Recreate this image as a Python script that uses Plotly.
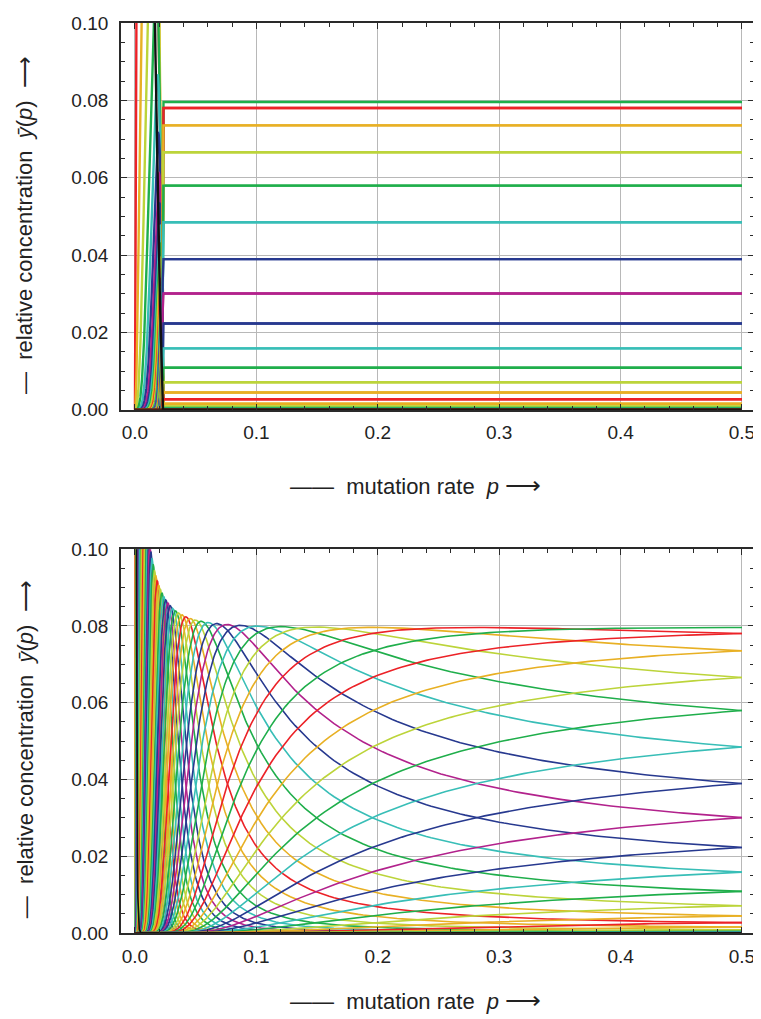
import numpy as np
import plotly.graph_objects as go
from plotly.subplots import make_subplots
from math import comb

# ---------------- data / model parameters ----------------
CHAIN_LENGTH = 100                      # plateau 0.0796 at p=0.5 -> C(100,50)/2^100
error_classes = list(range(CHAIN_LENGTH + 1))
SINGLE_PEAK_SUPERIORITY = 10.0          # top panel: error threshold at p ~ 0.0225
SITE_FITNESS_RATIO = 0.95               # bottom panel: smooth transition

mutation_rates = sorted(set(
    [round(i * 0.0001, 4) for i in range(0, 301)] +
    [round(0.03 + i * 0.001, 4) for i in range(0, 71)] +
    [round(0.1 + i * 0.004, 4) for i in range(0, 101)]
))

x_tick_values = [0.0, 0.1, 0.2, 0.3, 0.4, 0.5]
x_tick_labels = ["0.0", "0.1", "0.2", "0.3", "0.4", "0.5"]
y_tick_values = [0.00, 0.02, 0.04, 0.06, 0.08, 0.10]
y_tick_labels = ["0.00", "0.02", "0.04", "0.06", "0.08", "0.10"]

RED = "#ec2227"
ORANGE = "#e8b024"
YGREEN = "#bcd43a"
GREEN = "#1fae4b"
TEAL = "#38beb7"
BLUE = "#27398f"
MAGENTA = "#b2228c"
BLACK = "#111111"
color_cycle = [ORANGE, RED, ORANGE, YGREEN, GREEN, TEAL, BLUE, MAGENTA, BLUE, TEAL, GREEN, YGREEN]


def class_color(k):
    m = min(k, CHAIN_LENGTH - k)
    if m == 0:
        return BLACK
    if m == CHAIN_LENGTH // 2:
        return GREEN
    return color_cycle[m % 12]


# ---------------- quasispecies (error-class) computation ----------------
n = CHAIN_LENGTH
C = np.zeros((n + 1, n + 1))
for a in range(n + 1):
    for b in range(a + 1):
        C[a, b] = comb(a, b)


def class_mutation_matrix(p):
    q = 1.0 - p
    Q = np.zeros((n + 1, n + 1))
    for k in range(n + 1):
        i = np.arange(k + 1)
        stay = C[k, :k + 1] * q ** i * p ** (k - i)
        j = np.arange(n - k + 1)
        new = C[n - k, :n - k + 1] * p ** j * q ** (n - k - j)
        Q[:, k] = np.convolve(stay, new)
    return Q


fit_single_peak = np.ones(n + 1)
fit_single_peak[0] = SINGLE_PEAK_SUPERIORITY
fit_multiplicative = SITE_FITNESS_RATIO ** np.arange(n + 1)


def stationary(W):
    vals, vecs = np.linalg.eig(W)
    idx = np.argmax(vals.real)
    x = np.abs(vecs[:, idx].real)
    return x / x.sum()


top_conc = []
bottom_conc = []
for p in mutation_rates:
    Q = class_mutation_matrix(p)
    top_conc.append(stationary(Q * fit_single_peak[None, :]))
    bottom_conc.append(stationary(Q * fit_multiplicative[None, :]))
top_conc = np.array(top_conc)
bottom_conc = np.array(bottom_conc)

# ---------------- figure ----------------
fig = make_subplots(rows=2, cols=1, vertical_spacing=0.1)
order = list(range(1, n + 1)) + [0]
for row, conc, lw in [(1, top_conc, 2.4), (2, bottom_conc, 1.6)]:
    for k in order:
        fig.add_trace(go.Scatter(
            x=mutation_rates, y=conc[:, k], mode="lines",
            line=dict(color=class_color(k), width=lw),
            showlegend=False, hoverinfo="skip"), row=row, col=1)

FONT = "Liberation Sans, Arial, Helvetica, sans-serif"
axis_common = dict(
    showline=True, linecolor="#2a2a2a", linewidth=1.8, mirror="ticks",
    ticks="inside", ticklen=6, tickwidth=1.2, tickcolor="#2a2a2a",
    showgrid=True, gridcolor="#b8b8b8", gridwidth=1, zeroline=False,
    tickfont=dict(family=FONT, size=19, color="#222"),
)
for r in (1, 2):
    fig.update_xaxes(range=[-0.0115, 0.5099], tickvals=x_tick_values, ticktext=x_tick_labels,
                     minor=dict(ticks="inside", dtick=0.02, tick0=0, ticklen=4,
                                tickcolor="#2a2a2a", showgrid=False),
                     ticklabelstandoff=5, row=r, col=1, **axis_common)
    fig.update_yaxes(range=[0, 0.1], tickvals=y_tick_values, ticktext=y_tick_labels,
                     minor=dict(ticks="inside", dtick=0.005, tick0=0, ticklen=4,
                                tickcolor="#2a2a2a", showgrid=False),
                     ticklabelstandoff=7, row=r, col=1, **axis_common)

top_lo = (933 - 404) / 920
bot_hi = (933 - 545) / 920
fig.update_layout(
    width=753, height=1011,
    margin=dict(l=113, r=6, t=5, b=86),
    paper_bgcolor="white", plot_bgcolor="white",
    xaxis=dict(domain=[0, 1]), xaxis2=dict(domain=[0, 1]),
    yaxis=dict(domain=[top_lo, 1]), yaxis2=dict(domain=[0, bot_hi]),
)

xtitle = "——  mutation rate  <i>p</i> <span style='font-size:25px'>⟶</span>"
ytitle = "—  relative concentration  <i>ȳ</i>(<i>p</i>)  ⟶"
tfont = dict(family=FONT, size=22, color="#222")
for yx in [(933 - 480) / 920, (933 - 1001) / 920]:
    fig.add_annotation(text=xtitle, xref="paper", yref="paper", x=(416 - 121) / 634, y=yx,
                       xanchor="center", yanchor="middle", showarrow=False, font=tfont)
for yy in [(933 - 217) / 920, (933 - 747) / 920]:
    fig.add_annotation(text=ytitle, xref="paper", yref="paper", x=(25 - 121) / 634, y=yy,
                       xanchor="center", yanchor="middle", showarrow=False, font=tfont,
                       textangle=-90)

fig.write_html("out.html")
